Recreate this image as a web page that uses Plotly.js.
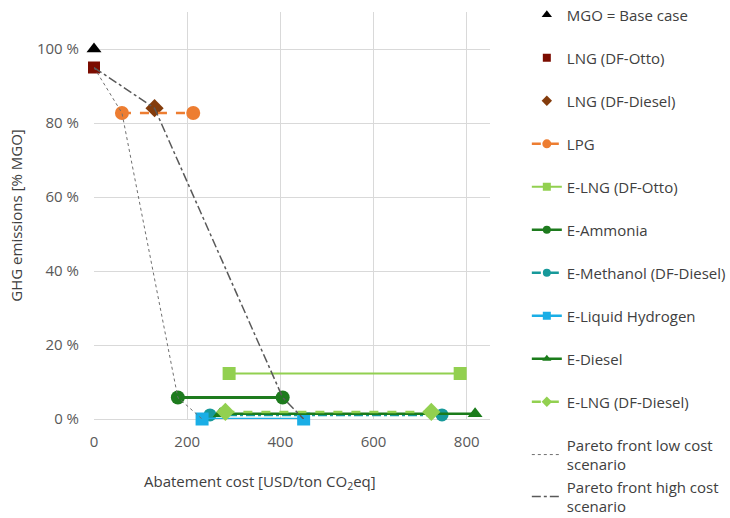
<!DOCTYPE html>
<html>
<head>
<meta charset="utf-8">
<script src="https://cdn.plot.ly/plotly-3.0.1.min.js"></script>
<style>html,body{margin:0;padding:0;background:#fff;}#chart{width:730px;height:518px;}</style>
</head>
<body>
<div id="chart"></div>
<script>
// Series data (abatement cost USD/ton CO2eq, GHG emissions % of MGO)
const mgoX = [0], mgoY = [100];
const lngOttoX = [0], lngOttoY = [95];
const lngDieselX = [130], lngDieselY = [84];
const lpgX = [60, 213], lpgY = [82.7, 82.7];
const eLngOttoX = [290, 786], eLngOttoY = [12.3, 12.3];
const eAmmoniaX = [180, 405], eAmmoniaY = [5.8, 5.8];
const eMethanolX = [249, 747], eMethanolY = [1.1, 1.1];
const eLh2X = [232, 450], eLh2Y = [0, 0];
const eDieselX = [271, 818], eDieselY = [1.4, 1.4];
const eLngDieselX = [282, 724], eLngDieselY = [1.9, 1.9];
const paretoLowX = [0, 60, 180, 232], paretoLowY = [95, 82.7, 5.8, 0];
const paretoHighX = [0, 130, 405, 450], paretoHighY = [95, 84, 5.8, 0];
const yTicks = [0, 20, 40, 60, 80, 100];
const xTicks = [0, 200, 400, 600, 800];

const names = ["MGO = Base case", "LNG (DF-Otto)", "LNG (DF-Diesel)", "LPG", "E-LNG (DF-Otto)",
  "E-Ammonia", "E-Methanol (DF-Diesel)", "E-Liquid Hydrogen", "E-Diesel", "E-LNG (DF-Diesel)",
  "Pareto front low cost<br>scenario", "Pareto front high cost<br>scenario"];

const styles = [
  {mode: 'markers', color: '#000000', symbol: 'triangle-up', size: 13, width: 0, dash: 'solid'},
  {mode: 'markers', color: '#7b0c00', symbol: 'square', size: 12, width: 0, dash: 'solid'},
  {mode: 'markers', color: '#843c0c', symbol: 'diamond', size: 14, width: 0, dash: 'solid'},
  {mode: 'lines+markers', color: '#ed7d31', symbol: 'circle', size: 14, width: 2.5, dash: 'dash'},
  {mode: 'lines+markers', color: '#92d050', symbol: 'square', size: 13, width: 2, dash: 'solid'},
  {mode: 'lines+markers', color: '#1e7b1e', symbol: 'circle', size: 14, width: 3, dash: 'solid'},
  {mode: 'lines+markers', color: '#17999a', symbol: 'circle', size: 13, width: 2.5, dash: 'dashdot'},
  {mode: 'lines+markers', color: '#1aaee6', symbol: 'square', size: 13, width: 2.5, dash: 'solid'},
  {mode: 'lines+markers', color: '#1b7c1b', symbol: 'triangle-up', size: 13, width: 2.5, dash: 'solid'},
  {mode: 'lines+markers', color: '#92d050', symbol: 'diamond', size: 14, width: 2.5, dash: 'dash'},
  {mode: 'lines', color: '#6f6f6f', symbol: 'circle', size: 1, width: 1, dash: 'dot'},
  {mode: 'lines', color: '#595959', symbol: 'circle', size: 1, width: 1.5, dash: 'dashdot'}
];
const legendMarkerSizes = [9, 8, 8, 9, 8, 8, 8, 8, 8, 8, 1, 1];
const xs = [mgoX, lngOttoX, lngDieselX, lpgX, eLngOttoX, eAmmoniaX, eMethanolX, eLh2X, eDieselX, eLngDieselX, paretoLowX, paretoHighX];
const ys = [mgoY, lngOttoY, lngDieselY, lpgY, eLngOttoY, eAmmoniaY, eMethanolY, eLh2Y, eDieselY, eLngDieselY, paretoLowY, paretoHighY];

const data = [];
// plotted series (no legend)
for (let i = 0; i < names.length; i++) {
  const s = styles[i];
  data.push({x: xs[i], y: ys[i], type: 'scatter', mode: s.mode, showlegend: false, cliponaxis: false,
    marker: {color: s.color, symbol: s.symbol, size: s.size},
    line: {color: s.color, width: s.width, dash: s.dash}});
}
// legend entries with small symbols, as in the reference
for (let i = 0; i < names.length; i++) {
  const s = styles[i];
  data.push({x: [null], y: [null], type: 'scatter', mode: s.mode, name: names[i], showlegend: true,
    legendgroup: i >= 10 ? 'pareto' : 'g' + i,
    marker: {color: s.color, symbol: s.symbol, size: legendMarkerSizes[i]},
    line: {color: s.color, width: Math.min(s.width, 2.5), dash: s.dash}});
}

const layout = {
  width: 730, height: 518,
  margin: {l: 94, r: 240, t: 12, b: 99, autoexpand: false},
  paper_bgcolor: '#ffffff', plot_bgcolor: '#ffffff',
  font: {family: 'Open Sans, sans-serif', size: 15, color: '#404040'},
  showlegend: true,
  legend: {x: 1.093, xanchor: 'left', y: 1.033, yanchor: 'top', tracegroupgap: 20.5, maxheight: 600,
    traceorder: 'grouped', itemsizing: 'trace', font: {size: 15, color: '#404040'}},
  xaxis: {range: [0, 850], tickvals: xTicks, ticktext: xTicks.map(String), showgrid: true, gridcolor: '#d9d9d9',
    zeroline: false, showline: false, ticks: '', ticklabelstandoff: 12, tickfont: {size: 15, color: '#595959'}},
  yaxis: {range: [0, 110], tickvals: yTicks, ticktext: yTicks.map(v => v + ' %'), showgrid: true, gridcolor: '#d9d9d9',
    zeroline: true, zerolinecolor: '#d9d9d9', zerolinewidth: 1, showline: false, ticks: '', ticklabelstandoff: 14,
    tickfont: {size: 15, color: '#595959'},
    title: {text: 'GHG emissions [% MGO]', font: {size: 15, color: '#404040'}, standoff: 10}},
  annotations: [{text: 'Abatement cost [USD/ton CO<sub>2</sub>eq]', xref: 'paper', yref: 'paper',
    x: 0.42, y: -0.155, xanchor: 'center', yanchor: 'middle', showarrow: false,
    font: {size: 15, color: '#404040'}}]
};

Plotly.newPlot('chart', data, layout, {displayModeBar: false, staticPlot: true});
</script>
</body>
</html>
